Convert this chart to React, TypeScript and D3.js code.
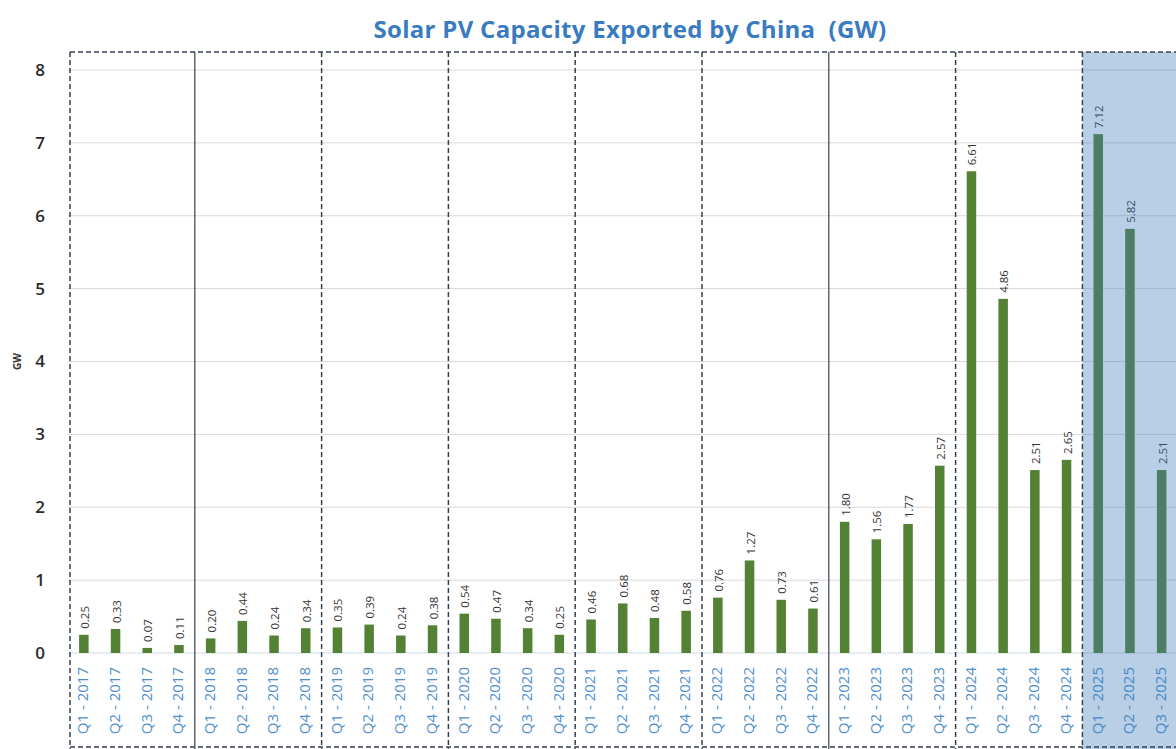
import React from "react";
import * as d3 from "d3";

// Quarterly solar PV exports (GW)
const quarters: string[] = [
  "Q1 - 2017", "Q2 - 2017", "Q3 - 2017", "Q4 - 2017",
  "Q1 - 2018", "Q2 - 2018", "Q3 - 2018", "Q4 - 2018",
  "Q1 - 2019", "Q2 - 2019", "Q3 - 2019", "Q4 - 2019",
  "Q1 - 2020", "Q2 - 2020", "Q3 - 2020", "Q4 - 2020",
  "Q1 - 2021", "Q2 - 2021", "Q3 - 2021", "Q4 - 2021",
  "Q1 - 2022", "Q2 - 2022", "Q3 - 2022", "Q4 - 2022",
  "Q1 - 2023", "Q2 - 2023", "Q3 - 2023", "Q4 - 2023",
  "Q1 - 2024", "Q2 - 2024", "Q3 - 2024", "Q4 - 2024",
  "Q1 - 2025", "Q2 - 2025", "Q3 - 2025",
];

const exportsGW: number[] = [
  0.25, 0.33, 0.07, 0.11,
  0.2, 0.44, 0.24, 0.34,
  0.35, 0.39, 0.24, 0.38,
  0.54, 0.47, 0.34, 0.25,
  0.46, 0.68, 0.48, 0.58,
  0.76, 1.27, 0.73, 0.61,
  1.8, 1.56, 1.77, 2.57,
  6.61, 4.86, 2.51, 2.65,
  7.12, 5.82, 2.51,
];

const yTicks: number[] = [0, 1, 2, 3, 4, 5, 6, 7, 8];

// Year boundaries: index of first quarter of the year, and whether the divider is solid
const yearDividers: { index: number; solid: boolean }[] = [
  { index: 4, solid: true },
  { index: 8, solid: false },
  { index: 12, solid: false },
  { index: 16, solid: false },
  { index: 20, solid: false },
  { index: 24, solid: true },
  { index: 28, solid: false },
  { index: 32, solid: false },
];

const highlightStart = 32;

const W = 1176;
const H = 749;
const plotLeft = 68;
const step = 31.7;
const plotTop = 52;

export default function App() {
  const x = d3
    .scaleBand<string>()
    .domain(quarters)
    .range([plotLeft, plotLeft + step * quarters.length])
    .paddingInner(0.7)
    .paddingOuter(0.35);
  const y = d3.scaleLinear().domain([0, 8]).range([653, 70]);

  const boundary = (i: number) => plotLeft + step * i;
  const dash = "5 3";
  const lineColor = "#364052";
  const font = "'Open Sans', 'Liberation Sans', sans-serif";

  return (
    <svg
      width={W}
      height={H}
      style={{ position: "absolute", left: 0, top: 0, background: "#fff" }}
      fontFamily={font}
    >
      <text
        x={630}
        y={38}
        textAnchor="middle"
        fontSize={24}
        fontWeight={700}
        fill="#3a7bbf"
        letterSpacing={0.3}
        style={{ whiteSpace: "pre" }}
      >
        {"Solar PV Capacity Exported by China  (GW)"}
      </text>

      {/* gridlines */}
      {yTicks.map((t) => (
        <line
          key={"g" + t}
          x1={plotLeft}
          x2={W}
          y1={y(t)}
          y2={y(t)}
          stroke={t === 0 ? "#cfdceb" : "#d9d9d9"}
          strokeWidth={1}
        />
      ))}

      {/* y tick labels */}
      {yTicks.map((t) => (
        <text
          key={"t" + t}
          x={40}
          y={y(t)}
          dy="0.35em"
          textAnchor="middle"
          fontSize={17}
          fontWeight={600}
          fill="#2a2a2a"
        >
          {t}
        </text>
      ))}
      <text
        transform={`translate(21,${y(4)}) rotate(-90)`}
        textAnchor="middle"
        fontSize={10}
        fontWeight={700}
        fill="#333"
      >
        GW
      </text>

      {/* bars */}
      {quarters.map((q, i) => (
        <rect
          key={"b" + q}
          x={x(q)!}
          y={y(exportsGW[i])}
          width={x.bandwidth()}
          height={y(0) - y(exportsGW[i])}
          fill="#548235"
        />
      ))}

      {/* value labels */}
      {quarters.map((q, i) => (
        <text
          key={"v" + q}
          transform={`translate(${x(q)! + x.bandwidth() / 2 + 1},${y(exportsGW[i]) - 6}) rotate(-90)`}
          dy="0.35em"
          fontSize={11.5}
          fill="#333"
        >
          {exportsGW[i].toFixed(2)}
        </text>
      ))}

      {/* quarter labels */}
      {quarters.map((q) => (
        <text
          key={"x" + q}
          transform={`translate(${x(q)! + x.bandwidth() / 2 - 1},667) rotate(-90)`}
          dy="0.35em"
          textAnchor="end"
          fontSize={15}
          fill="#4f8fcb"
        >
          {q}
        </text>
      ))}

      {/* highlighted current year */}
      <rect
        x={boundary(highlightStart)}
        y={plotTop}
        width={W - boundary(highlightStart)}
        height={H - plotTop}
        fill="#3b7bba"
        fillOpacity={0.36}
      />

      {/* frame and year dividers */}
      <line x1={plotLeft + 2} x2={W} y1={plotTop} y2={plotTop} stroke={lineColor} strokeWidth={1.5} strokeDasharray={dash} />
      <line x1={plotLeft + 2} x2={W} y1={H - 2} y2={H - 2} stroke={lineColor} strokeWidth={1.5} strokeDasharray={dash} />
      <line x1={plotLeft + 2} x2={plotLeft + 2} y1={plotTop} y2={H} stroke={lineColor} strokeWidth={1.5} strokeDasharray={dash} />
      {yearDividers.map((d) => (
        <line
          key={"d" + d.index}
          x1={boundary(d.index)}
          x2={boundary(d.index)}
          y1={plotTop}
          y2={H}
          stroke={lineColor}
          strokeWidth={d.solid ? 1.2 : 1.5}
          strokeDasharray={d.solid ? undefined : dash}
        />
      ))}
    </svg>
  );
}
